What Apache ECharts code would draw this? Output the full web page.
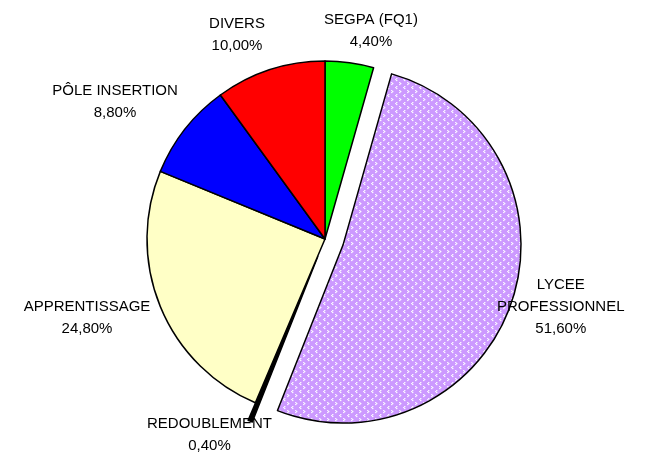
<!DOCTYPE html>
<html>
<head>
<meta charset="utf-8">
<script src="https://cdn.jsdelivr.net/npm/echarts@6/dist/echarts.min.js"></script>
<style>
  html, body { margin: 0; padding: 0; background: #fff; }
  #chart { width: 652px; height: 469px; }
</style>
</head>
<body>
<div id="chart"></div>
<script>
// slices, clockwise from 12 o'clock
const categories = ["SEGPA (FQ1)", "LYCEE\nPROFESSIONNEL", "REDOUBLEMENT", "APPRENTISSAGE", "PÔLE INSERTION", "DIVERS"];
const shares = [4.4, 51.6, 0.4, 24.8, 8.8, 10.0];
const pulledOut = [false, true, true, false, false, false];

const sliceColors = ["#00ff00", null, "#000000", "#ffffc6", "#0000ff", "#ff0000"];
// label block centres (layout only)
const labelSpots = [[371, 31], [586, 316], [181, 452], [87, 318], [115, 102], [237, 35]];

// lavender fill with small white chevrons, like the Excel pattern
const makeTile = () => {
  const c = document.createElement("canvas");
  c.width = 8;
  c.height = 8;
  const g = c.getContext("2d");
  g.fillStyle = "#cc99ff";
  g.fillRect(0, 0, 8, 8);
  g.fillStyle = "#e2c8ff";
  [[3, 0], [2, 1], [3, 2], [6, 4], [7, 5], [6, 6]].forEach(([x, y]) => g.fillRect(x, y, 1, 1));
  g.fillStyle = "#ffffff";
  [[2, 0], [1, 1], [2, 2]].forEach(([x, y]) => g.fillRect(x, y, 1, 1));
  [[5, 4], [6, 5], [5, 6]].forEach(([x, y]) => g.fillRect(x, y, 1, 1));
  return c;
};
const lavender = { image: makeTile(), repeat: "repeat" };

const chart = echarts.init(document.getElementById("chart"), null, { renderer: "canvas" });

chart.setOption({
  animation: false,
  backgroundColor: "#ffffff",
  series: [
    {
      type: "pie",
      center: [325, 239],
      radius: 178,
      startAngle: 90,
      clockwise: true,
      selectedMode: "multiple",
      selectedOffset: 19,
      avoidLabelOverlap: false,
      silent: true,
      itemStyle: { borderColor: "#000", borderWidth: 1.5 },
      label: {
        show: true,
        position: "outside",
        color: "#000",
        fontFamily: "Liberation Sans, Arial, sans-serif",
        fontSize: 15,
        lineHeight: 22,
        align: "center",
        formatter: (p) => p.name + "\n" + p.value.toFixed(2).replace(".", ",") + "%"
      },
      labelLine: { show: false },
      labelLayout: (params) => {
        const spot = labelSpots[params.dataIndex];
        return { x: spot[0], y: spot[1], align: "center", verticalAlign: "middle" };
      },
      emphasis: { disabled: true },
      data: categories.map((name, i) => ({
        name: name,
        value: shares[i],
        selected: pulledOut[i],
        itemStyle: { color: sliceColors[i] || lavender }
      }))
    }
  ]
});
</script>
</body>
</html>
